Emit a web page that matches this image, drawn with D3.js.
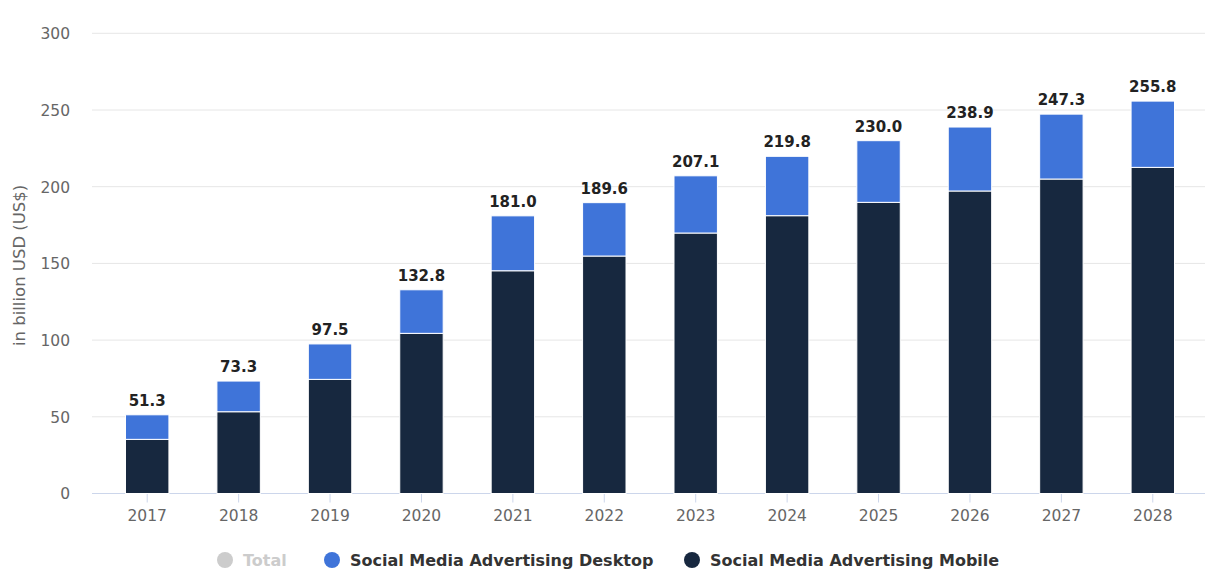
<!DOCTYPE html>
<html>
<head>
<meta charset="utf-8">
<script src="https://cdn.jsdelivr.net/npm/d3@7"></script>
<style>
  body { margin: 0; background: #fff; font-family: "DejaVu Sans", sans-serif; }
  .tick text { fill: #666; font-size: 15.5px; font-family: "DejaVu Sans", sans-serif; }
</style>
</head>
<body>
<div id="chart"></div>
<script>
'use strict';

// data
var years   = ['2017','2018','2019','2020','2021','2022','2023','2024','2025','2026','2027','2028'];
var totals  = [51.3, 73.3, 97.5, 132.8, 181.0, 189.6, 207.1, 219.8, 230.0, 238.9, 247.3, 255.8];
var mobile  = [35.3, 53.3, 74.4, 104.4, 145.2, 154.8, 169.8, 181.1, 189.8, 197.2, 205.0, 212.6];
var desktop = totals.map(function(t, i){ return +(t - mobile[i]).toFixed(1); });
var yTicks  = [0, 50, 100, 150, 200, 250, 300];
var seriesNames = ['Total', 'Social Media Advertising Desktop', 'Social Media Advertising Mobile'];

function stackedChart()
{
    var scope = this;
    var exports = {};

    scope.width = 1208;
    scope.height = 569;
    scope.colors = {desktop: '#3f74d9', mobile: '#17283f', total: '#cccccc'};

    scope.appendSvg = function(div)
    {
        return d3.select(div).append('svg')
            .attr('width', scope.width)
            .attr('height', scope.height);
    }

    scope.createScales = function()
    {
        scope.xScale = d3.scaleBand().domain(years).range([101.5, 1198.5]).paddingInner(0.525).paddingOuter(0.2625);
        scope.yScale = d3.scaleLinear().domain([0, 300]).range([493.5, 33.3]);
    }

    scope.createAxes = function(svg)
    {
        // horizontal grid lines
        svg.append('g').selectAll('line')
            .data(yTicks.filter(function(d){ return d > 0; }))
            .enter().append('line')
            .attr('x1', 92).attr('x2', 1205)
            .attr('y1', function(d){ return scope.yScale(d); })
            .attr('y2', function(d){ return scope.yScale(d); })
            .style('stroke', '#e6e6e6');

        var yAxis = d3.axisLeft(scope.yScale).tickValues(yTicks).tickSize(0).tickPadding(0);
        var yg = svg.append('g').attr('transform', 'translate(70,0)').call(yAxis);
        yg.select('.domain').remove();
        yg.selectAll('.tick text').attr('dy', '0.35em');

        var xAxis = d3.axisBottom(scope.xScale).tickSize(9).tickPadding(5).tickSizeOuter(0);
        var xg = svg.append('g').attr('transform', 'translate(0,' + scope.yScale(0) + ')').call(xAxis);
        xg.select('.domain').remove();
        xg.selectAll('.tick line').style('stroke', '#ccd6eb');
        xg.selectAll('.tick text').attr('dy', '0.85em');

        svg.append('line')
            .attr('x1', 92).attr('x2', 1205)
            .attr('y1', scope.yScale(0)).attr('y2', scope.yScale(0))
            .style('stroke', '#ccd6eb');

        svg.append('text')
            .attr('transform', 'translate(25,' + (scope.yScale(150) + 2) + ') rotate(-90)')
            .style('text-anchor', 'middle')
            .style('fill', '#666')
            .style('font-size', '16.5px')
            .text('in billion USD (US$)');
    }

    scope.appendBars = function(svg)
    {
        var rows = years.map(function(y, i){ return {year: y, mobile: mobile[i], desktop: desktop[i], total: totals[i]}; });
        var stack = d3.stack().keys(['mobile', 'desktop'])(rows);

        svg.append('g').selectAll('g')
            .data(stack)
            .enter().append('g')
            .style('fill', function(d){ return scope.colors[d.key]; })
            .selectAll('rect')
            .data(function(d){ return d; })
            .enter().append('rect')
            .attr('x', function(d){ return scope.xScale(d.data.year); })
            .attr('y', function(d){ return scope.yScale(d[1]); })
            .attr('width', scope.xScale.bandwidth())
            .attr('height', function(d){ return scope.yScale(d[0]) - scope.yScale(d[1]); })
            .style('stroke', '#fff')
            .style('stroke-width', 1);

        svg.append('g').selectAll('text')
            .data(rows)
            .enter().append('text')
            .attr('x', function(d){ return scope.xScale(d.year) + scope.xScale.bandwidth() / 2; })
            .attr('y', function(d){ return scope.yScale(d.total) - 9; })
            .style('text-anchor', 'middle')
            .style('font-size', '15px')
            .style('font-weight', 'bold')
            .style('fill', '#222')
            .text(function(d){ return d.total.toFixed(1); });
    }

    scope.appendLegend = function(svg)
    {
        var items = [
            {name: seriesNames[0], color: scope.colors.total, text: '#cccccc', x: 225},
            {name: seriesNames[1], color: scope.colors.desktop, text: '#333', x: 332},
            {name: seriesNames[2], color: scope.colors.mobile, text: '#333', x: 692}
        ];
        var g = svg.append('g').selectAll('g')
            .data(items)
            .enter().append('g')
            .attr('transform', function(d){ return 'translate(' + d.x + ',560)'; });
        g.append('circle').attr('r', 8).style('fill', function(d){ return d.color; });
        g.append('text')
            .attr('x', 18)
            .attr('dy', '0.35em')
            .style('font-size', '16px')
            .style('font-weight', 'bold')
            .style('fill', function(d){ return d.text; })
            .text(function(d){ return d.name; });
    }

    exports.run = function(div)
    {
        var svg = scope.appendSvg(div);
        scope.createScales();
        scope.createAxes(svg);
        scope.appendBars(svg);
        scope.appendLegend(svg);
    }

    return exports;
}

stackedChart.call({}).run('#chart');
</script>
</body>
</html>
